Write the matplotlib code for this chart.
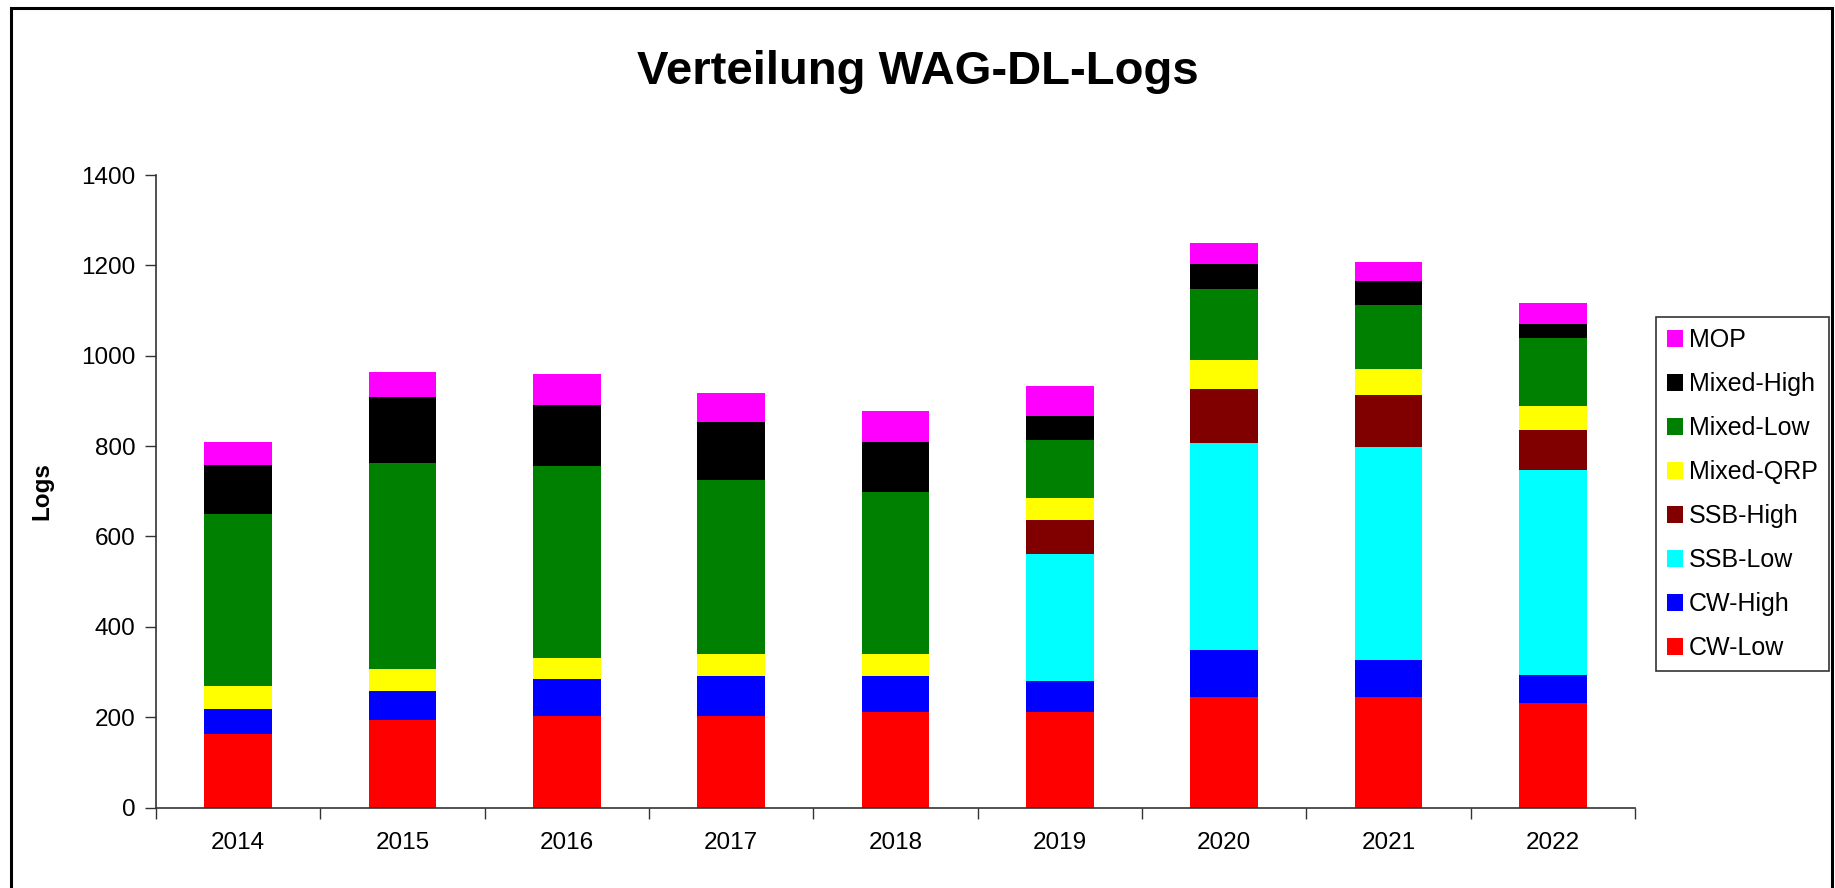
import matplotlib
matplotlib.use("Agg")
import matplotlib.pyplot as plt
import matplotlib.patches as mpatches
import numpy as np

plt.rcParams['font.family'] = ['Liberation Sans', 'DejaVu Sans']

years = ["2014", "2015", "2016", "2017", "2018", "2019", "2020", "2021", "2022"]
cw_low = [162, 193, 202, 202, 211, 211, 245, 245, 232]
cw_high = [55, 64, 82, 88, 79, 68, 104, 82, 62]
ssb_low = [0, 0, 0, 0, 0, 283, 458, 471, 453]
ssb_high = [0, 0, 0, 0, 0, 75, 119, 114, 88]
mixed_qrp = [53, 49, 46, 49, 49, 48, 64, 58, 53]
mixed_low = [380, 456, 426, 386, 360, 128, 158, 143, 152]
mixed_high = [108, 146, 134, 128, 110, 53, 55, 53, 31]
mop = [51, 55, 69, 64, 68, 68, 46, 42, 46]

series_names = ["CW-Low", "CW-High", "SSB-Low", "SSB-High", "Mixed-QRP",
                "Mixed-Low", "Mixed-High", "MOP"]
series_vals = [cw_low, cw_high, ssb_low, ssb_high, mixed_qrp,
               mixed_low, mixed_high, mop]
colors = ["#FF0000", "#0000FF", "#00FFFF", "#800000", "#FFFF00",
          "#008000", "#000000", "#FF00FF"]

W, H = 1835, 888
fig = plt.figure(figsize=(W / 100, H / 100), dpi=100)
ax = fig.add_axes([156 / W, 1 - 807.5 / H, (1635 - 156) / W, (807.5 - 175) / H])

x = np.arange(len(years))
bottom = np.zeros(len(years))
handles = []
for name, vals, c in zip(series_names, series_vals, colors):
    v = np.array(vals, dtype=float)
    b = ax.bar(x, v, width=0.41, bottom=bottom, color=c, label=name, linewidth=0)
    handles.append(b)
    bottom += v

ax.set_xlim(-0.5, len(years) - 0.5)
ax.set_ylim(0, 1400)
ax.set_yticks(np.arange(0, 1401, 200))
ax.tick_params(axis='y', labelsize=17.5, length=8, width=1, pad=7, color='#333333')

ax.set_xticks(np.arange(-0.5, len(years), 1.0))
ax.set_xticklabels([])
ax.tick_params(axis='x', which='major', length=8, width=1, color='#333333')
ax.set_xticks(x, minor=True)
ax.set_xticklabels(years, minor=True)
ax.tick_params(axis='x', which='minor', length=0, labelsize=17.5, pad=17.5)

for s in ['top', 'right']:
    ax.spines[s].set_visible(False)
for s in ['left', 'bottom']:
    ax.spines[s].set_color('#333333')
    ax.spines[s].set_linewidth(1.2)

ax.set_ylabel("Logs", fontsize=17.5, fontweight='bold')
ax.yaxis.set_label_coords((53 - 156) / (1635 - 156), 0.5)

fig.text(918 / W, 1 - 72 / H, "Verteilung WAG-DL-Logs", fontsize=34,
         fontweight='bold', ha='center', va='center')

leg = fig.legend(handles[::-1], series_names[::-1], loc='upper left',
                 bbox_to_anchor=(1656 / W, 1 - 317 / H), bbox_transform=fig.transFigure,
                 fontsize=18, frameon=True, fancybox=False, edgecolor='black',
                 handlelength=0.62, handleheight=0.62, handletextpad=0.25,
                 labelspacing=0.8, borderpad=0.45, borderaxespad=0)
leg.get_frame().set_linewidth(1.2)

border = mpatches.Rectangle((10.7 / W, -0.1), (1832 - 10.7) / W, 1.1 - 8 / H,
                            transform=fig.transFigure, fill=False,
                            edgecolor='black', linewidth=2.2)
fig.patches.append(border)

fig.savefig("out.png", dpi=100, facecolor='white')
